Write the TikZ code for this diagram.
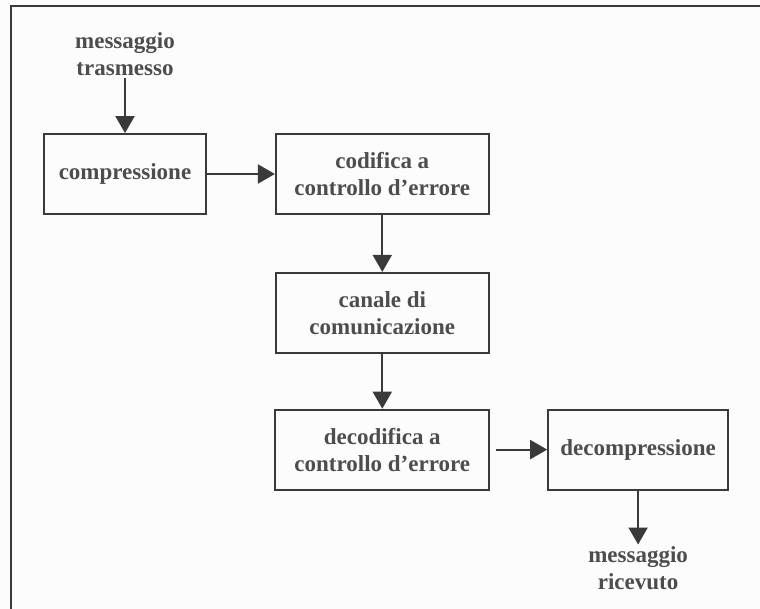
\documentclass[tikz,border=0pt]{standalone}
\usepackage{fontspec}
\setmainfont{Liberation Serif}
\usetikzlibrary{arrows.meta, positioning}
\definecolor{inkgray}{HTML}{3A3A3A}
\definecolor{textgray}{HTML}{4D4D4D}
\definecolor{paper}{HTML}{FCFCFC}

\begin{document}
\begin{tikzpicture}[
  x=1pt, y=-1pt,
  box/.style={draw=inkgray, line width=1.8pt, align=center, inner sep=2pt,
              minimum height=80pt, font=\fontsize{23}{27}\selectfont\bfseries, text=textgray},
  flow/.style={-{Triangle[length=17pt, width=19pt]}, line width=2pt, draw=inkgray},
  lab/.style={align=center, inner sep=2pt, font=\fontsize{23}{27}\selectfont\bfseries, text=textgray}
]
\fill[paper] (0,0) rectangle (760,609);
\useasboundingbox (0,0) rectangle (760,609);
\draw[inkgray, line width=2.5pt] (11,609) -- (11,6) -- (760,6);

\node[box, minimum width=162pt] (comp) at (125,174) {compressione};
\node[box, minimum width=213pt, right=68pt of comp] (cod) {codifica a\\controllo d’errore};
\node[box, minimum width=213pt, below=57pt of cod] (can) {canale di\\comunicazione};
\node[box, minimum width=214pt, below=55pt of can] (dec) {decodifica a\\controllo d’errore};
\node[box, minimum width=180pt, right=57pt of dec] (decomp) {decompressione};

\node[lab, above=55pt of comp] (tx) {messaggio\\trasmesso};
\node[lab, below=54pt of decomp] (rx) {messaggio\\ricevuto};

\draw[flow] (tx) -- (comp);
\draw[flow] (comp) -- (cod);
\draw[flow] (cod) -- (can);
\draw[flow] (can) -- (dec);
\draw[flow, shorten <=6pt] (dec) -- (decomp);
\draw[flow] (decomp) -- (rx);
\end{tikzpicture}
\end{document}
